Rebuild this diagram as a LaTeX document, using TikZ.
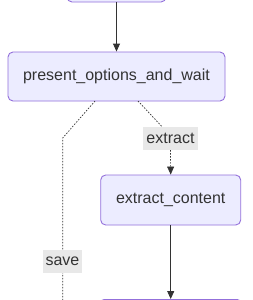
\documentclass[tikz,border=0pt]{standalone}
\usepackage{fontspec}
\setmainfont{Liberation Sans}
\usetikzlibrary{arrows.meta}
\definecolor{nodefill}{HTML}{ECECFF}
\definecolor{nodeline}{HTML}{9370DB}
\definecolor{ink}{HTML}{333333}
\definecolor{lblbg}{HTML}{E8E8E8}
\tikzset{
  flowbox/.style={draw=nodeline, fill=nodefill, line width=0.9pt, rounded corners=5pt, inner sep=0pt, text=ink, font=\fontsize{16}{18}\selectfont},
  edgelbl/.style={fill=lblbg, text=ink, inner xsep=3pt, inner ysep=0pt, minimum height=23pt, font=\fontsize{16}{18}\selectfont},
  solidflow/.style={draw=ink, line width=0.9pt, -{Triangle[length=8pt,width=7pt]}},
  dottedflow/.style={draw=ink, line width=0.7pt, dash pattern=on 1.5pt off 1.5pt},
}
\begin{document}
\begin{tikzpicture}[x=1pt,y=-1pt]
\useasboundingbox (0,0) rectangle (252,300);
\clip (0,0) rectangle (252,300);
\fill[white] (0,0) rectangle (252,300);
% top box (cut off)
\node[flowbox, minimum width=99pt, minimum height=40pt] (top) at (116.5,-18) {};
% main box
\node[flowbox, minimum width=217pt, minimum height=49pt] (pow) at (116.5,76.5) {present\_options\_and\_wait};
% extract_content
\node[flowbox, minimum width=140pt, minimum height=50pt] (ec) at (170.7,200) {extract\_content};
% bottom box (cut off)
\node[flowbox, minimum width=143pt, minimum height=40pt, anchor=north] (bot) at (170.7,299) {};
% solid arrows
\draw[solidflow] (top.south) -- (pow.north);
\draw[solidflow] (ec.south) -- (bot.north);
% save branch
\coordinate (sbend) at (62.7,138);
\coordinate (send) at (62.7,310);
\draw[dottedflow] (95,101) -- (sbend) -- (send);
\node[edgelbl] (save) at (62.5,261.5) {save};
% extract branch
\coordinate (ebend) at (170.7,136);
\draw[dottedflow] (138,101) -- (ebend);
\node[edgelbl] (ex) at (170.5,138.5) {extract};
\draw[dottedflow, -{Triangle[length=8pt,width=7pt]}] (ex.south) -- (ec.north);
\end{tikzpicture}
\end{document}
